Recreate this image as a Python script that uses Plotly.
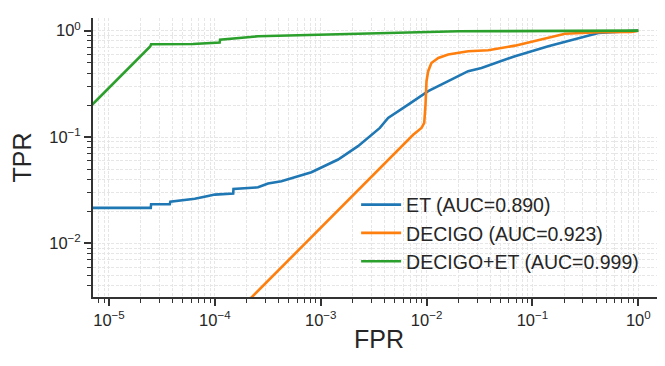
import plotly.graph_objects as go

# ROC curves (log-log axes)
fpr_et = [1e-6, 2.48e-5, 2.5e-5, 3.75e-5, 3.8e-5, 6.46e-5, 8.63e-5, 9.98e-5, 1.49e-4, 1.5e-4,
          2.56e-4, 3.18e-4, 4.25e-4, 8.17e-4, 1.46e-3, 2.25e-3, 3.62e-3, 4.33e-3, 6.7e-3,
          1.035e-2, 1.6e-2, 2.47e-2, 3.3e-2, 6.84e-2, 0.141, 0.291, 0.419, 1.0]
tpr_et = [0.0216, 0.0216, 0.0234, 0.0234, 0.0247, 0.0263, 0.0279, 0.0288, 0.0295, 0.0326,
          0.0337, 0.0366, 0.0385, 0.0468, 0.0615, 0.0822, 0.122, 0.151, 0.202,
          0.270, 0.335, 0.416, 0.446, 0.575, 0.714, 0.867, 0.951, 1.0]

fpr_decigo = [1e-6, 7.47e-3, 8.95e-3, 9.5e-3, 9.77e-3, 9.98e-3, 1.035e-2, 1.11e-2, 1.29e-2,
              1.6e-2, 2.47e-2, 3.82e-2, 6.84e-2, 0.141, 0.203, 0.419, 0.859, 1.0]
tpr_decigo = [1.4e-5, 0.105, 0.122, 0.136, 0.202, 0.335, 0.416, 0.497, 0.554,
              0.596, 0.641, 0.655, 0.723, 0.854, 0.937, 0.966, 0.972, 1.0]

fpr_both = [1e-6, 2.45e-5, 2.5e-5, 6.22e-5, 1.11e-4, 1.12e-4, 2.56e-4, 2.99e-3, 1.99e-2, 1.0]
tpr_both = [0.029, 0.71, 0.745, 0.75, 0.772, 0.823, 0.886, 0.937, 0.987, 1.0]

names = ["ET (AUC=0.890)", "DECIGO (AUC=0.923)", "DECIGO+ET (AUC=0.999)"]
colors = ["#1f77b4", "#ff7f0e", "#2ca02c"]

x_major = [1e-5, 1e-4, 1e-3, 1e-2, 1e-1, 1]
x_labels = ["10<sup>−5</sup>", "10<sup>−4</sup>", "10<sup>−3</sup>",
            "10<sup>−2</sup>", "10<sup>−1</sup>", "10<sup>0</sup>"]
y_major = [1e-2, 1e-1, 1]
y_labels = ["10<sup>−2</sup>", "10<sup>−1</sup>", "10<sup>0</sup>"]

x_minor = [m * 10.0 ** e for e in range(-6, 1) for m in range(2, 10)]
y_minor = [m * 10.0 ** e for e in range(-3, 1) for m in range(2, 10)]

fig = go.Figure()
for fx, ty, name, col in zip([fpr_et, fpr_decigo, fpr_both],
                             [tpr_et, tpr_decigo, tpr_both], names, colors):
    fig.add_trace(go.Scatter(x=fx, y=ty, mode="lines", name=name,
                             line=dict(color=col, width=2.6)))

grid = dict(showgrid=True, gridcolor="#e6e6e6", griddash="3px,1.5px", gridwidth=1)
axis_common = dict(type="log", showline=True, linecolor="#333333", linewidth=1.9,
                   ticks="outside", ticklen=7, tickwidth=1.5, tickcolor="#333333",
                   tickfont=dict(size=16.5, color="#262626"), zeroline=False,
                   automargin=False, **grid)

fig.update_xaxes(range=[-5.151, 0.252], tickmode="array", tickvals=x_major, ticktext=x_labels,
                 minor=dict(tickmode="array", tickvals=x_minor, ticks="outside", ticklen=4,
                            tickwidth=1.2, tickcolor="#333333", **grid),
                 title=dict(text="FPR", font=dict(size=25, color="#262626"), standoff=3),
                 **axis_common)
fig.update_yaxes(range=[-2.503, 0.119], tickmode="array", tickvals=y_major, ticktext=y_labels,
                 minor=dict(tickmode="array", tickvals=y_minor, ticks="outside", ticklen=4,
                            tickwidth=1.2, tickcolor="#333333", **grid),
                 title=dict(text="TPR", font=dict(size=25, color="#262626"), standoff=23),
                 **axis_common)

fig.update_layout(
    width=665, height=366,
    margin=dict(l=85, r=8, t=10, b=77),
    plot_bgcolor="white", paper_bgcolor="white",
    font=dict(family="Arial, Liberation Sans, sans-serif", color="#262626"),
    legend=dict(x=0.46, y=0.40, xanchor="left", yanchor="top", itemwidth=40,
                bgcolor="rgba(0,0,0,0)", font=dict(size=19.5, color="#262626")),
)

fig.write_html("out.html")
